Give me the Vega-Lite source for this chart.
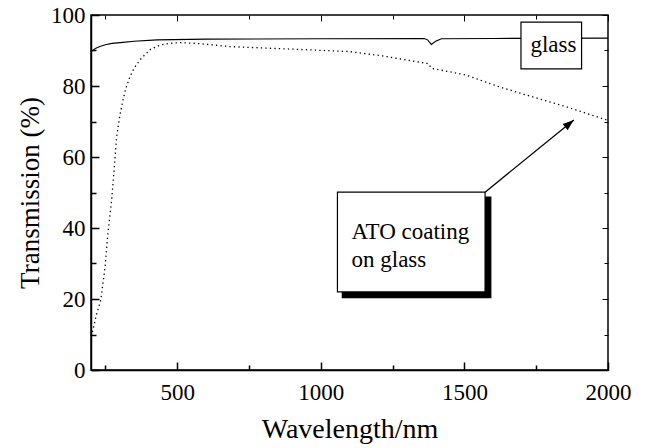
{
  "$schema": "https://vega.github.io/schema/vega-lite/v6.json",
  "width": 517,
  "height": 355,
  "autosize": {"type": "none"},
  "padding": {"left": 91, "top": 15, "right": 37, "bottom": 78},
  "background": "white",
  "config": {
    "view": {"stroke": "black", "strokeWidth": 1.5},
    "font": "Liberation Serif",
    "axis": {"grid": false}
  },
  "datasets": {
    "glass": [
      {"wl": 200, "t": 89.6}, {"wl": 215, "t": 90.6}, {"wl": 231, "t": 91.1}, {"wl": 250, "t": 91.6},
      {"wl": 273, "t": 92.0}, {"wl": 311, "t": 92.3}, {"wl": 350, "t": 92.6}, {"wl": 430, "t": 93.0},
      {"wl": 600, "t": 93.2}, {"wl": 1000, "t": 93.3}, {"wl": 1360, "t": 93.4}, {"wl": 1372, "t": 93.0},
      {"wl": 1385, "t": 91.7}, {"wl": 1400, "t": 92.6}, {"wl": 1420, "t": 93.3}, {"wl": 1600, "t": 93.4},
      {"wl": 2000, "t": 93.5}
    ],
    "ato": [
      {"wl": 200, "t": 9.5}, {"wl": 207, "t": 11.3}, {"wl": 217, "t": 15}, {"wl": 234, "t": 19.7},
      {"wl": 249, "t": 29}, {"wl": 259, "t": 38.6}, {"wl": 272, "t": 47.9}, {"wl": 281, "t": 57},
      {"wl": 289, "t": 65.5}, {"wl": 300, "t": 71.5}, {"wl": 310, "t": 75.5}, {"wl": 320, "t": 79},
      {"wl": 335, "t": 82.5}, {"wl": 350, "t": 85}, {"wl": 370, "t": 87.3}, {"wl": 390, "t": 89},
      {"wl": 408, "t": 90.4}, {"wl": 440, "t": 91.5}, {"wl": 470, "t": 92}, {"wl": 509, "t": 92.2},
      {"wl": 568, "t": 92.0}, {"wl": 683, "t": 91.1}, {"wl": 832, "t": 90.6}, {"wl": 926, "t": 90.3},
      {"wl": 1099, "t": 89.7}, {"wl": 1214, "t": 88.5}, {"wl": 1331, "t": 86.9}, {"wl": 1375, "t": 86.3},
      {"wl": 1385, "t": 85.0}, {"wl": 1505, "t": 83.1}, {"wl": 1620, "t": 79.8}, {"wl": 1735, "t": 77.0},
      {"wl": 1853, "t": 74.2}, {"wl": 1978, "t": 70.9}, {"wl": 2000, "t": 70.3}
    ],
    "boxes": [
      {"name": "ato_shadow", "x1": 1075, "x2": 1592, "y1": 20.4, "y2": 48.7, "fill": "black", "stroke": "black"},
      {"name": "ato", "x1": 1058, "x2": 1572, "y1": 22.0, "y2": 50.1, "fill": "white", "stroke": "black"},
      {"name": "glass", "x1": 1697, "x2": 1908, "y1": 84.8, "y2": 98.0, "fill": "white", "stroke": "black"}
    ],
    "labels": [
      {"wl": 1107, "t": 38.9, "text": "ATO coating"},
      {"wl": 1107, "t": 31.0, "text": "on glass"},
      {"wl": 1730, "t": 91.5, "text": "glass"}
    ],
    "arrow": [
      {"x1": 1572, "y1": 50.1, "x2": 1881, "y2": 70.4}
    ]
  },
  "layer": [
    {
      "data": {"name": "glass"},
      "mark": {"type": "line", "color": "black", "strokeWidth": 1.1},
      "encoding": {
        "x": {
          "field": "wl", "type": "quantitative",
          "scale": {"domain": [200, 2000], "nice": false, "zero": false},
          "axis": {
            "title": "Wavelength/nm",
            "values": [250, 500, 750, 1000, 1250, 1500, 1750, 2000],
            "labelExpr": "datum.value % 500 === 0 ? datum.label : ''",
            "format": "d",
            "tickSize": {"condition": {"test": "datum.value % 500 === 0", "value": -8}, "value": -5},
            "tickColor": "black",
            "tickWidth": 1.5,
            "domainColor": "black",
            "domainWidth": 1.5,
            "labelFont": "Liberation Serif",
            "labelFontSize": 23,
            "labelColor": "black",
            "labelPadding": 19,
            "labelFlush": false,
            "labelOverlap": false,
            "titleFont": "Liberation Serif",
            "titleFontSize": 28,
            "titleFontWeight": "normal",
            "titleColor": "black",
            "titlePadding": 8
          }
        },
        "y": {
          "field": "t", "type": "quantitative",
          "scale": {"domain": [0, 100], "nice": false},
          "axis": {
            "title": "Transmission (%)",
            "values": [0, 10, 20, 30, 40, 50, 60, 70, 80, 90, 100],
            "labelExpr": "datum.value % 20 === 0 ? datum.label : ''",
            "tickSize": {"condition": {"test": "datum.value % 20 === 0", "value": -8}, "value": -5},
            "tickColor": "black",
            "tickWidth": 1.5,
            "domainColor": "black",
            "domainWidth": 1.5,
            "labelFont": "Liberation Serif",
            "labelFontSize": 23,
            "labelColor": "black",
            "labelPadding": 14,
            "labelFlush": false,
            "labelOverlap": false,
            "titleFont": "Liberation Serif",
            "titleFontSize": 27,
            "titleFontWeight": "normal",
            "titleColor": "black",
            "titlePadding": 6
          }
        }
      }
    },
    {
      "data": {"name": "ato"},
      "mark": {"type": "line", "color": "black", "strokeWidth": 1.3, "strokeDash": [1.3, 3.2]},
      "encoding": {
        "x": {
          "field": "wl", "type": "quantitative",
          "axis": {
            "orient": "top", "title": null, "labels": false,
            "values": [250, 500, 750, 1000, 1250, 1500, 1750, 2000],
            "tickSize": {"condition": {"test": "datum.value % 500 === 0", "value": -6}, "value": -4},
            "tickColor": "black", "tickWidth": 1, "domain": false
          }
        },
        "y": {
          "field": "t", "type": "quantitative",
          "axis": {
            "orient": "right", "title": null, "labels": false,
            "values": [0, 10, 20, 30, 40, 50, 60, 70, 80, 90, 100],
            "tickSize": {"condition": {"test": "datum.value % 20 === 0", "value": -6}, "value": -4},
            "tickColor": "black", "tickWidth": 1, "domain": false
          }
        }
      }
    },
    {
      "data": {"name": "boxes"},
      "mark": {"type": "rect", "strokeWidth": 1.2},
      "encoding": {
        "x": {"field": "x1", "type": "quantitative", "axis": null},
        "x2": {"field": "x2"},
        "y": {"field": "y1", "type": "quantitative", "axis": null},
        "y2": {"field": "y2"},
        "fill": {"field": "fill", "type": "nominal", "scale": null},
        "stroke": {"field": "stroke", "type": "nominal", "scale": null}
      }
    },
    {
      "data": {"name": "labels"},
      "mark": {"type": "text", "font": "Liberation Serif", "fontSize": 23, "color": "black", "align": "left", "baseline": "middle"},
      "encoding": {
        "x": {"field": "wl", "type": "quantitative", "axis": null},
        "y": {"field": "t", "type": "quantitative", "axis": null},
        "text": {"field": "text"}
      }
    },
    {
      "data": {"name": "arrow"},
      "mark": {"type": "rule", "color": "black", "strokeWidth": 1.3},
      "encoding": {
        "x": {"field": "x1", "type": "quantitative", "axis": null},
        "y": {"field": "y1", "type": "quantitative", "axis": null},
        "x2": {"field": "x2"},
        "y2": {"field": "y2"}
      }
    },
    {
      "data": {"name": "arrow"},
      "mark": {"type": "point", "shape": "M0,0 L-0.35,1 L0.35,1 Z", "filled": true, "color": "black", "opacity": 1, "size": 500, "angle": 51},
      "encoding": {
        "x": {"field": "x2", "type": "quantitative", "axis": null},
        "y": {"field": "y2", "type": "quantitative", "axis": null}
      }
    }
  ],
  "resolve": {"axis": {"x": "independent", "y": "independent"}}
}
